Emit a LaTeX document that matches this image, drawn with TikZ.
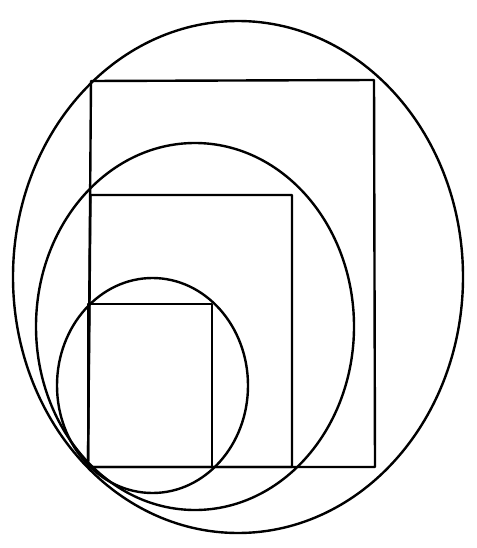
\documentclass[tikz,border=0pt]{standalone}
\begin{document}
\begin{tikzpicture}[x=1pt,y=-1pt,line width=2.4pt,
  shapeline/.style={draw=black,line join=round}]
\useasboundingbox (0,0) rectangle (476,548);
\fill[white] (0,0) rectangle (476,548);
% outer
\draw[shapeline] (238,277) ellipse [x radius=225, y radius=256];
\draw[shapeline] (91,81) -- (374,80) -- (375,467) -- (88,467) -- cycle;
% middle
\draw[shapeline] (195,326.5) ellipse [x radius=159, y radius=183.5];
\draw[shapeline] (90.5,195) -- (292,195) -- (292,467) -- (88,467) -- cycle;
% small
\draw[shapeline] (152.5,385.5) ellipse [x radius=95.5, y radius=107.5];
\draw[shapeline] (88,304) rectangle (212,467);
\end{tikzpicture}
\end{document}
